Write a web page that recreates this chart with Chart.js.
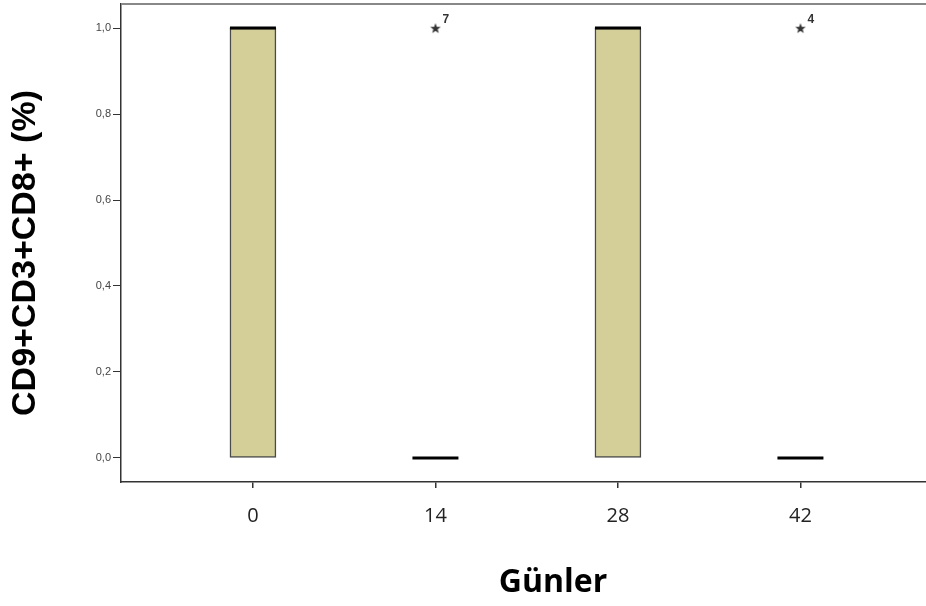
<!DOCTYPE html>
<html>
<head>
<meta charset="utf-8">
<script src="https://cdn.jsdelivr.net/npm/chart.js@4"></script>
<style>
  html, body { margin: 0; padding: 0; background: #fff; overflow: hidden; }
  #wrap { width: 926px; height: 606px; position: relative; }
</style>
</head>
<body>
<div id="wrap"><canvas id="chart"></canvas></div>
<script>
// Günlere göre kutu grafiği verileri
const days = ['0', '14', '28', '42'];
const q1 = [0, 0, 0, 0];
const q3 = [1, 0, 1, 0];
const median = [1, 0, 1, 0];
const outlierDay = [1, 3];
const outlierValue = [1, 1];
const outlierCase = ['7', '4'];
const yTicks = [0, 0.2, 0.4, 0.6, 0.8, 1.0];
const yTickLabels = ['0,0', '0,2', '0,4', '0,6', '0,8', '1,0'];

// SPSS tarzı beş köşeli yıldız
function makeStar(size, color) {
    const c = document.createElement('canvas');
    c.width = size; c.height = size;
    const g = c.getContext('2d');
    const cx = size / 2, cy = size / 2 + 0.5;
    const R = size / 2 - 0.5, r = R * 0.42;
    g.beginPath();
    for (let i = 0; i < 10; i++) {
        const rad = i % 2 === 0 ? R : r;
        const a = -Math.PI / 2 + i * Math.PI / 5;
        const px = cx + rad * Math.cos(a), py = cy + rad * Math.sin(a);
        if (i === 0) g.moveTo(px, py); else g.lineTo(px, py);
    }
    g.closePath();
    g.fillStyle = color;
    g.fill();
    return c;
}

// Çerçeve üst çizgisi, eksen başlıkları ve aykırı değer etiketleri
const extras = {
    id: 'extras',
    afterDraw(chart) {
        const ctx = chart.ctx;
        const a = chart.chartArea;
        ctx.save();
        ctx.strokeStyle = '#888';
        ctx.lineWidth = 2;
        ctx.beginPath();
        ctx.moveTo(a.left, a.top);
        ctx.lineTo(a.right, a.top);
        ctx.stroke();

        // aykırı değer numaraları
        const meta = chart.getDatasetMeta(2);
        ctx.fillStyle = '#333';
        ctx.font = 'bold 12px "Liberation Sans", Arial, sans-serif';
        ctx.textAlign = 'left';
        ctx.textBaseline = 'middle';
        meta.data.forEach((pt, i) => {
            ctx.fillText(outlierCase[i], pt.x + 7, pt.y - 8);
        });

        // y ekseni başlığı
        ctx.fillStyle = '#000';
        ctx.font = 'bold 34px "Liberation Sans", Arial, sans-serif';
        ctx.textAlign = 'center';
        ctx.translate(26, 253);
        ctx.rotate(-Math.PI / 2);
        ctx.fillText('CD9+CD3+CD8+ (%)', 0, 0);
        ctx.setTransform(1, 0, 0, 1, 0, 0);

        // x ekseni başlığı
        ctx.font = 'bold 32px "Open Sans", sans-serif';
        ctx.fillText('Günler', 553, 583);
        ctx.restore();
    }
};

const ctx = document.getElementById('chart').getContext('2d');

new Chart(ctx, {
    data: {
        datasets: [
            {
                type: 'bar',
                label: 'kutu',
                data: days.map((d, i) => ({ x: i, y: [q1[i], q3[i]] })).filter(p => p.y[0] !== p.y[1]),
                backgroundColor: '#d4ce98',
                borderColor: '#4a4a4a',
                borderWidth: 1.5,
                borderSkipped: false,
                barThickness: 46,
                order: 3
            },
            {
                type: 'scatter',
                label: 'medyan',
                data: days.map((d, i) => ({ x: i, y: median[i] })),
                pointStyle: 'line',
                pointRadius: 23,
                pointHoverRadius: 23,
                borderColor: '#000',
                borderWidth: 3,
                order: 2
            },
            {
                type: 'scatter',
                label: 'aykırı',
                data: outlierDay.map((d, i) => ({ x: d, y: outlierValue[i] })),
                pointStyle: makeStar(12, '#333'),
                pointRadius: 6,
                order: 1
            }
        ]
    },
    options: {
        responsive: true,
        maintainAspectRatio: false,
        animation: false,
        events: [],
        layout: { autoPadding: false, padding: { left: 0, top: 4, right: 0, bottom: 0 } },
        plugins: {
            legend: { display: false },
            tooltip: { enabled: false }
        },
        scales: {
            x: {
                type: 'linear',
                min: -0.723,
                max: 3.688,
                offset: false,
                afterBuildTicks: scale => { scale.ticks = days.map((d, i) => ({ value: i })); },
                afterFit: scale => {
                    scale.height = 124;
                    scale.paddingLeft = 0;
                    scale.paddingRight = 0;
                },
                grid: {
                    offset: false,
                    drawOnChartArea: false,
                    tickLength: 6,
                    color: '#333',
                    lineWidth: 1.5
                },
                border: { color: '#333', width: 1.5 },
                ticks: {
                    callback: v => days[v],
                    color: '#222',
                    padding: 16,
                    maxRotation: 0,
                    font: { family: '"Open Sans", sans-serif', size: 20 }
                }
            },
            y: {
                type: 'linear',
                min: -0.056,
                max: 1.056,
                afterBuildTicks: scale => { scale.ticks = yTicks.map(v => ({ value: v })); },
                afterFit: scale => {
                    scale.width = 121;
                    scale.paddingTop = 0;
                    scale.paddingBottom = 0;
                },
                grid: {
                    drawOnChartArea: false,
                    tickLength: 8,
                    color: '#333',
                    lineWidth: 1
                },
                border: { color: '#333', width: 1.5 },
                ticks: {
                    callback: v => yTickLabels[yTicks.indexOf(v)],
                    color: '#444',
                    padding: 2,
                    font: { family: '"Liberation Sans", Arial, sans-serif', size: 11 }
                }
            }
        }
    },
    plugins: [extras]
});
</script>
</body>
</html>
